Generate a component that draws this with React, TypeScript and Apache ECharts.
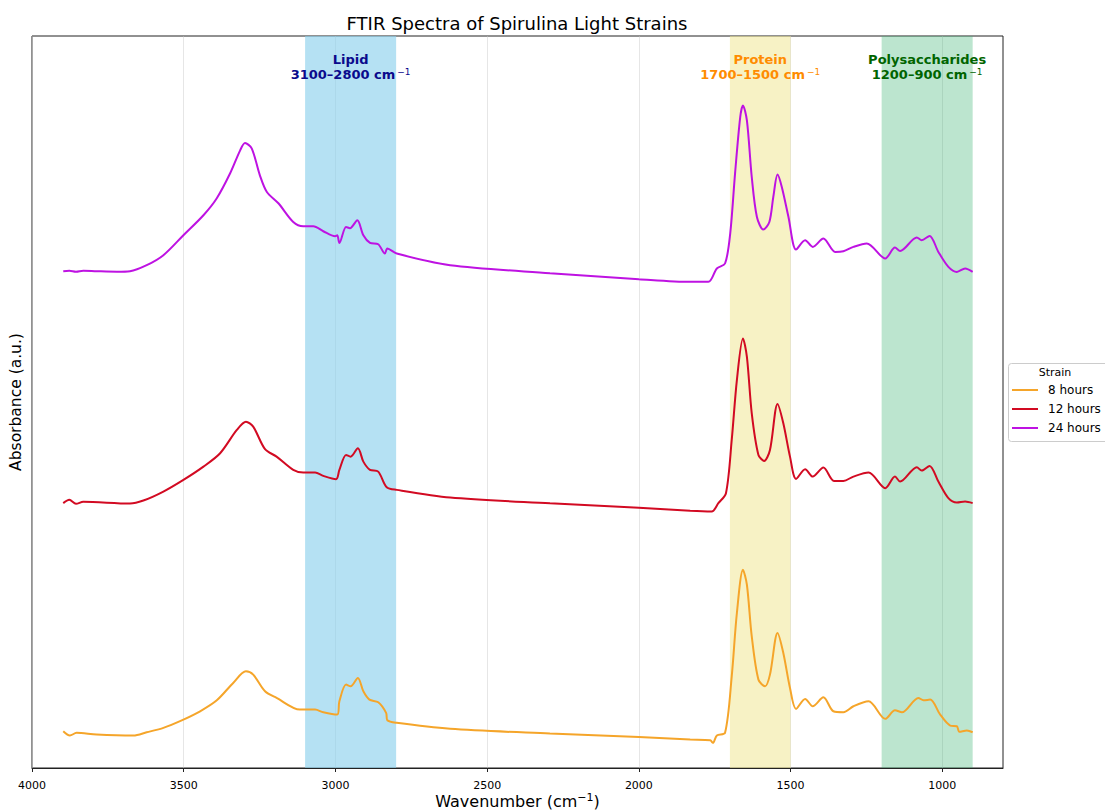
import React, { useEffect, useRef } from "react";
import * as echarts from "echarts";

// Wavenumber (cm^-1) and absorbance (a.u., vertically offset) for each strain
const hours8Wn = [3897, 3875, 3853, 3787, 3666, 3622, 3567, 3501, 3446, 3391, 3337, 3295, 3271, 3232, 3194, 3117, 3067, 3040, 2994, 2987, 2965, 2950, 2926, 2908, 2888, 2859, 2833, 2829, 2798, 2622, 2293, 2000, 1831, 1765, 1756, 1743, 1716, 1694, 1677, 1657, 1644, 1628, 1606, 1584, 1568, 1543, 1524, 1502, 1482, 1452, 1427, 1392, 1359, 1326, 1293, 1243, 1188, 1156, 1133, 1079, 1062, 1040, 1007, 974, 952, 944, 919, 900];
const hours8Abs = [0.368, 0.325, 0.352, 0.335, 0.325, 0.358, 0.402, 0.485, 0.568, 0.678, 0.852, 0.968, 0.935, 0.768, 0.702, 0.585, 0.585, 0.558, 0.535, 0.668, 0.835, 0.818, 0.902, 0.768, 0.685, 0.658, 0.552, 0.478, 0.452, 0.392, 0.345, 0.31, 0.285, 0.278, 0.252, 0.325, 0.352, 0.918, 1.552, 1.985, 1.835, 1.318, 0.885, 0.818, 0.935, 1.352, 1.152, 0.802, 0.592, 0.692, 0.618, 0.708, 0.568, 0.558, 0.618, 0.668, 0.492, 0.578, 0.558, 0.702, 0.678, 0.685, 0.535, 0.425, 0.418, 0.362, 0.375, 0.358];

const hours12Wn = [3897, 3877, 3855, 3831, 3677, 3633, 3567, 3501, 3435, 3380, 3325, 3295, 3271, 3232, 3194, 3139, 3106, 3067, 3040, 2998, 2987, 2965, 2950, 2926, 2908, 2886, 2859, 2831, 2798, 2622, 2293, 2000, 1831, 1760, 1738, 1713, 1694, 1677, 1657, 1644, 1628, 1606, 1587, 1568, 1543, 1524, 1502, 1482, 1452, 1427, 1392, 1357, 1326, 1293, 1243, 1188, 1156, 1139, 1084, 1068, 1042, 1013, 980, 952, 925, 900];
const hours12Abs = [2.652, 2.685, 2.645, 2.665, 2.648, 2.678, 2.768, 2.885, 3.018, 3.152, 3.385, 3.468, 3.418, 3.192, 3.118, 2.985, 2.958, 2.958, 2.925, 2.892, 2.985, 3.135, 3.118, 3.202, 3.068, 2.985, 2.968, 2.812, 2.785, 2.708, 2.65, 2.605, 2.575, 2.568, 2.652, 2.752, 3.285, 3.885, 4.302, 4.118, 3.552, 3.135, 3.075, 3.185, 3.645, 3.452, 3.118, 2.895, 2.992, 2.918, 3.008, 2.875, 2.875, 2.918, 2.958, 2.802, 2.918, 2.868, 3.012, 2.978, 3.025, 2.868, 2.702, 2.658, 2.668, 2.652];

const hours24Wn = [3897, 3877, 3855, 3831, 3787, 3720, 3677, 3622, 3567, 3501, 3435, 3391, 3347, 3314, 3298, 3276, 3249, 3226, 3188, 3139, 3106, 3073, 3040, 3001, 2994, 2987, 2965, 2952, 2928, 2908, 2886, 2859, 2837, 2829, 2798, 2622, 2293, 2000, 1831, 1771, 1743, 1716, 1699, 1683, 1666, 1657, 1644, 1628, 1611, 1590, 1570, 1557, 1543, 1529, 1507, 1482, 1452, 1427, 1392, 1353, 1326, 1293, 1249, 1188, 1156, 1139, 1084, 1068, 1042, 1013, 980, 952, 925, 900];
const hours24Abs = [4.975, 4.98, 4.97, 4.98, 4.975, 4.97, 4.975, 5.035, 5.135, 5.335, 5.535, 5.705, 5.955, 6.185, 6.258, 6.205, 5.935, 5.768, 5.655, 5.468, 5.425, 5.425, 5.375, 5.325, 5.335, 5.258, 5.418, 5.405, 5.485, 5.335, 5.258, 5.245, 5.152, 5.202, 5.152, 5.035, 4.955, 4.895, 4.868, 4.868, 5.002, 5.052, 5.352, 5.955, 6.518, 6.635, 6.485, 5.918, 5.518, 5.392, 5.468, 5.718, 5.942, 5.818, 5.518, 5.192, 5.285, 5.218, 5.302, 5.168, 5.175, 5.218, 5.252, 5.102, 5.212, 5.178, 5.312, 5.285, 5.328, 5.168, 5.018, 4.968, 5.002, 4.968];

const strainNames = ["8 hours", "12 hours", "24 hours"];
const strainColors = ["#F5A52A", "#D20A22", "#BE12E2"];

const xTicks = [1000, 1500, 2000, 2500, 3000, 3500, 4000];

// Spectral regions of interest: [start, end]
const regionNames = ["Lipid", "Protein", "Polysaccharides"];
const regionRanges = [
  [3100, 2800],
  [1700, 1500],
  [1200, 900],
];
const regionFills = ["rgba(135,206,235,0.62)", "rgba(240,230,140,0.5)", "rgba(60,179,113,0.34)"];
const regionTextColors = ["#0A0A8C", "#FF8C00", "#006400"];

const FONT = "DejaVu Sans";

function pairs(xs: number[], ys: number[]) {
  return xs.map((x, i) => [x, ys[i]]);
}

export default function App() {
  const ref = useRef<HTMLDivElement>(null);

  useEffect(() => {
    if (!ref.current) return;
    const chart = echarts.init(ref.current, undefined, { renderer: "svg" });

    const markAreaData = regionRanges.map((r, i) => [
      {
        xAxis: r[0],
        itemStyle: { color: regionFills[i] },
        label: {
          show: true,
          position: "insideTop",
          distance: 16,
          formatter: `{t|${regionNames[i]}}\n{t|${r[0]}–${r[1]} cm}{s|−1}`,
          rich: {
            t: {
              fontFamily: FONT,
              fontSize: 13,
              fontWeight: "bold",
              color: regionTextColors[i],
              lineHeight: 15,
            },
            s: {
              fontFamily: FONT,
              fontSize: 9,
              color: regionTextColors[i],
              verticalAlign: "top",
              lineHeight: 15,
              padding: [0, 0, 6, 2],
            },
          },
        },
      },
      { xAxis: r[1] },
    ]);

    const data = [pairs(hours8Wn, hours8Abs), pairs(hours12Wn, hours12Abs), pairs(hours24Wn, hours24Abs)];

    chart.setOption({
      animation: false,
      backgroundColor: "#fff",
      textStyle: { fontFamily: FONT },
      title: {
        text: "FTIR Spectra of Spirulina Light Strains",
        left: 512,
        top: 9,
        textAlign: "center",
        textStyle: { fontFamily: FONT, fontSize: 18, fontWeight: "normal", color: "#000" },
      },
      grid: {
        left: 32,
        right: 102,
        top: 36,
        bottom: 44,
        outerBoundsMode: "none",
        show: true,
        borderColor: "#222",
        borderWidth: 1,
        backgroundColor: "transparent",
      },
      xAxis: {
        type: "value",
        min: 800,
        max: 4000,
        inverse: true,
        name: "{a|Wavenumber (cm}{s|−1}{a|)}",
        nameLocation: "middle",
        nameGap: 24,
        nameMoveOverlap: false,
        nameTextStyle: {
          rich: {
            a: { fontFamily: FONT, fontSize: 16, color: "#000", lineHeight: 18 },
            s: { fontFamily: FONT, fontSize: 11, color: "#000", verticalAlign: "top", lineHeight: 18, padding: [0, 0, 7, 0] },
          },
        },
        axisLine: { show: true, onZero: false, lineStyle: { color: "#222", width: 1 } },
        axisTick: { show: true, length: 4, lineStyle: { color: "#222" }, customValues: xTicks },
        axisLabel: {
          color: "#000",
          fontFamily: FONT,
          fontSize: 11,
          margin: 12,
          customValues: xTicks,
          formatter: (v: number) => String(v),
        },
        splitLine: { show: true, lineStyle: { color: "rgba(200,200,200,0.45)", width: 1 } },
      },
      yAxis: {
        type: "value",
        min: 0,
        max: 7.33,
        name: "Absorbance (a.u.)",
        nameLocation: "middle",
        nameGap: 8,
        nameTextStyle: { fontFamily: FONT, fontSize: 15.5, color: "#000" },
        axisLine: { show: false },
        axisTick: { show: false },
        axisLabel: { show: false },
        splitLine: { show: false },
      },
      legend: {
        orient: "vertical",
        left: 1007,
        top: 378,
        z: 10,
        itemWidth: 26,
        itemHeight: 2,
        itemGap: 5,
        icon: "rect",
        data: strainNames,
        textStyle: { fontFamily: FONT, fontSize: 12, color: "#000", padding: [0, 0, 0, 5], lineHeight: 14 },
      },
      graphic: [
        {
          type: "rect",
          left: 1008,
          top: 363,
          z: 1,
          shape: { width: 110, height: 78, r: 3 },
          style: { fill: "#ffffff", stroke: "#cccccc", lineWidth: 1 },
        },
        {
          type: "text",
          x: 1055,
          y: 372,
          z: 2,
          style: { text: "Strain", fontFamily: FONT, fontSize: 11, fill: "#000", align: "center", verticalAlign: "middle" },
        },
      ],
      series: strainNames.map((name, i) => ({
        name,
        type: "line",
        data: data[i],
        showSymbol: false,
        symbol: "none",
        smooth: 0.3,
        lineStyle: { color: strainColors[i], width: 2 },
        itemStyle: { color: strainColors[i] },
        z: 3,
        markArea: i === 0 ? { silent: true, data: markAreaData, z: 1 } : undefined,
      })),
    });

    return () => chart.dispose();
  }, []);

  return (
    <div
      ref={ref}
      style={{ position: "absolute", left: 0, top: 0, width: 1105, height: 812 }}
    />
  );
}
